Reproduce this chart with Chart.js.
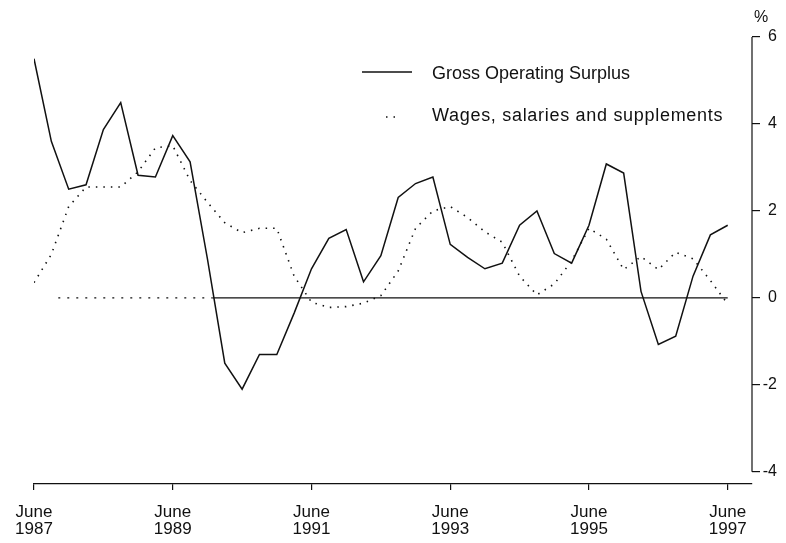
<!DOCTYPE html>
<html>
<head>
<meta charset="utf-8">
<script src="https://cdn.jsdelivr.net/npm/chart.js@4.4.1/dist/chart.umd.min.js"></script>
<style>
  html, body { margin: 0; padding: 0; background: #fff; }
  #grafico { display: block; }
</style>
</head>
<body>
<canvas id="grafico" width="786" height="543"></canvas>
<script>
// Trimestral, junio 1987 .. junio 1997 (41 trimestres), variacion en %
const gos = [5.5, 3.6, 2.5, 2.6, 3.87, 4.49, 2.82, 2.78, 3.73, 3.13,
             0.9, -1.5, -2.1, -1.3, -1.3, -0.35, 0.67, 1.37, 1.57, 0.37,
             0.97, 2.31, 2.63, 2.78, 1.23, 0.93, 0.67, 0.8, 1.67, 2.0,
             1.02, 0.8, 1.67, 3.08, 2.87, 0.15, -1.07, -0.88, 0.5, 1.45,
             1.67];
const wages = [0.35, 1.0, 2.1, 2.55, 2.55, 2.55, 2.9, 3.45, 3.5, 2.7,
               2.2, 1.73, 1.5, 1.6, 1.6, 0.5, -0.1, -0.22, -0.2, -0.12,
               0.05, 0.62, 1.6, 2.0, 2.1, 1.85, 1.52, 1.28, 0.5, 0.07,
               0.32, 0.85, 1.6, 1.35, 0.65, 0.95, 0.65, 1.05, 0.9, 0.4,
               -0.14];
const tickQuarters = [0, 8, 16, 24, 32, 40];
const tickYears = ['1987', '1989', '1991', '1993', '1995', '1997'];
const yTicks = [-4, -2, 0, 2, 4, 6];
const zeroLineQuarters = [1.4, 10.3, 40];

const FONT = "'Liberation Sans', Arial, sans-serif";
const NEGRO = '#111';

function aPuntos(serie) {
  return serie.map((v, i) => ({ x: i, y: v }));
}

const decor = {
  id: 'decor',
  afterDraw(chart) {
    const { ctx, chartArea, scales } = chart;
    const y = scales.y;
    ctx.save();
    // eje vertical derecho, de 6 a -4
    ctx.strokeStyle = NEGRO;
    ctx.lineWidth = 1.2;
    ctx.beginPath();
    ctx.moveTo(chartArea.right, y.getPixelForValue(6));
    ctx.lineTo(chartArea.right, y.getPixelForValue(-4));
    ctx.stroke();

    ctx.fillStyle = NEGRO;
    ctx.font = '16px ' + FONT;
    ctx.textAlign = 'center';
    ctx.textBaseline = 'middle';
    ctx.fillText('%', chartArea.right + 9, 18);

    // leyenda
    const ds = chart.data.datasets;
    ctx.font = '18px ' + FONT;
    ctx.textAlign = 'left';
    ctx.lineWidth = ds[0].borderWidth;
    ctx.beginPath();
    ctx.moveTo(362, 72);
    ctx.lineTo(412, 72);
    ctx.stroke();
    ctx.fillText(ds[0].label, 432, 74);

    ctx.lineWidth = ds[1].borderWidth;
    ctx.setLineDash(ds[1].borderDash);
    ctx.beginPath();
    ctx.moveTo(386, 117);
    ctx.lineTo(400, 117);
    ctx.stroke();
    ctx.setLineDash([]);
    ctx.letterSpacing = '0.7px';
    ctx.fillText(ds[1].label, 432, 116);
    ctx.restore();
  }
};

const ctx = document.getElementById('grafico').getContext('2d');
const grafico = new Chart(ctx, {
  type: 'line',
  data: {
    datasets: [
      {
        label: 'Gross Operating Surplus',
        data: aPuntos(gos),
        borderColor: NEGRO,
        borderWidth: 1.5,
        pointRadius: 0,
        tension: 0
      },
      {
        label: 'Wages, salaries and supplements',
        data: aPuntos(wages),
        borderColor: NEGRO,
        borderWidth: 1.6,
        borderDash: [1.5, 6],
        pointRadius: 0,
        tension: 0
      },
      {
        label: 'cero',
        data: zeroLineQuarters.map(q => ({ x: q, y: 0 })),
        borderColor: NEGRO,
        borderWidth: 1.3,
        pointRadius: 0,
        segment: {
          borderDash: c => c.p0DataIndex === 0 ? [2, 7] : undefined
        }
      }
    ]
  },
  options: {
    responsive: false,
    animation: false,
    layout: { padding: { left: 34, right: 9, top: 37, bottom: 0 } },
    plugins: {
      legend: { display: false },
      tooltip: { enabled: false }
    },
    scales: {
      x: {
        type: 'linear',
        min: 0,
        max: 41.4,
        afterBuildTicks: s => { s.ticks = tickQuarters.map(v => ({ value: v })); },
        afterFit: s => { s.height = 59; },
        grid: { drawOnChartArea: false, drawTicks: true, tickLength: 6, color: NEGRO, lineWidth: 1.2 },
        border: { display: true, color: NEGRO, width: 1.2 },
        ticks: {
          color: NEGRO,
          font: { family: FONT, size: 17, lineHeight: 1.05 },
          padding: 13,
          maxRotation: 0,
          autoSkip: false,
          callback: v => ['June', tickYears[tickQuarters.indexOf(v)]]
        }
      },
      y: {
        position: 'right',
        min: -4.28,
        max: 6,
        afterBuildTicks: s => { s.ticks = yTicks.map(v => ({ value: v })); },
        afterFit: s => { s.width = 25; },
        grid: { drawOnChartArea: false, drawTicks: true, tickLength: 8, color: NEGRO, lineWidth: 1.2 },
        border: { display: false },
        ticks: {
          color: NEGRO,
          font: { family: FONT, size: 16 },
          padding: 2,
          crossAlign: 'far'
        }
      }
    }
  },
  plugins: [decor]
});
</script>
</body>
</html>
